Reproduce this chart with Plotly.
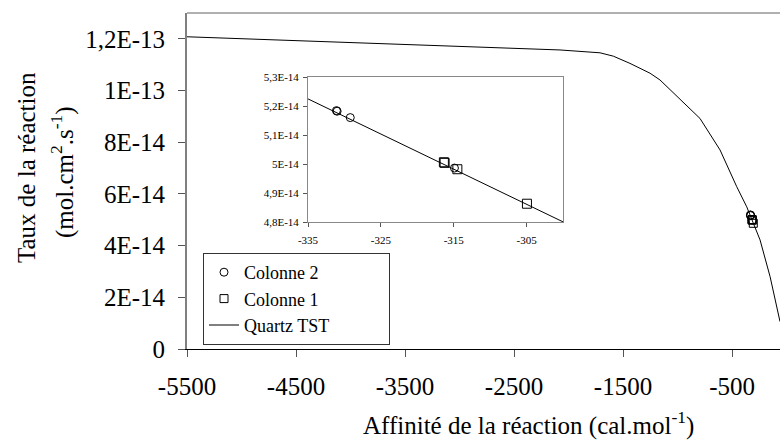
import plotly.graph_objects as go

# Main curve: Quartz TST
quartz_x = [-5500, -4500, -3500, -2500, -2078, -1711, -1589, -1436, -1252, -1161,
            -977, -794, -610, -457, -365, -320, -243, -151, -60]
quartz_y = [1.208e-13, 1.193e-13, 1.178e-13, 1.163e-13, 1.157e-13, 1.146e-13, 1.133e-13,
            1.105e-13, 1.067e-13, 1.041e-13, 0.968e-13, 0.892e-13, 0.770e-13, 0.628e-13,
            0.550e-13, 0.504e-13, 0.422e-13, 0.280e-13, 0.106e-13]

# Measurements
col2_x = [-331.1, -331.0, -329.2, -314.9]
col2_y = [5.184e-14, 5.182e-14, 5.160e-14, 4.986e-14]
col1_x = [-316.35, -316.25, -314.5, -304.95]
col1_y = [5.006e-14, 5.004e-14, 4.982e-14, 4.863e-14]

# Inset line (Quartz TST zoomed)
inset_line_x = [-335.7, -299.3]
inset_line_y = [5.233e-14, 4.792e-14]

# Tick labels
main_yticks = [0, 2e-14, 4e-14, 6e-14, 8e-14, 1e-13, 1.2e-13]
main_yticktext = ["0", "2E-14", "4E-14", "6E-14", "8E-14", "1E-13", "1,2E-13"]
main_xticks = [-5500, -4500, -3500, -2500, -1500, -500]
main_xticktext = ["-5500", "-4500", "-3500", "-2500", "-1500", "-500"]
inset_yticks = [4.8e-14, 4.9e-14, 5.0e-14, 5.1e-14, 5.2e-14, 5.3e-14]
inset_yticktext = ["4,8E-14", "4,9E-14", "5E-14", "5,1E-14", "5,2E-14", "5,3E-14"]
inset_xticks = [-335, -325, -315, -305]
inset_xticktext = ["-335", "-325", "-315", "-305"]

FONT = "Liberation Serif"
W, H = 780, 446
L, R, T, B = 187, 0, 13, 97
PW, PH = W - L - R, H - T - B
PAD = "\u00a0" * 12  # extra room on the right of the legend entries


def px_x(x):
    return (x - L) / PW


def px_y(y):
    return (H - B - y) / PH


fig = go.Figure()

fig.add_trace(go.Scatter(x=quartz_x, y=quartz_y, mode="lines", name="Quartz TST" + PAD,
                         line=dict(color="black", width=1), legendrank=3))
fig.add_trace(go.Scatter(x=col2_x, y=col2_y, mode="markers", name="Colonne 2",
                         marker=dict(symbol="circle-open", size=8, color="black",
                                     line=dict(width=1, color="black")), legendrank=1))
fig.add_trace(go.Scatter(x=col1_x, y=col1_y, mode="markers", name="Colonne 1",
                         marker=dict(symbol="square-open", size=8, color="black",
                                     line=dict(width=1, color="black")), legendrank=2))

# Inset traces
fig.add_trace(go.Scatter(x=inset_line_x, y=inset_line_y, mode="lines", showlegend=False,
                         line=dict(color="black", width=1), xaxis="x2", yaxis="y2"))
fig.add_trace(go.Scatter(x=col2_x, y=col2_y, mode="markers", showlegend=False,
                         marker=dict(symbol="circle-open", size=8, color="black",
                                     line=dict(width=1, color="black")),
                         xaxis="x2", yaxis="y2", cliponaxis=False))
fig.add_trace(go.Scatter(x=col1_x, y=col1_y, mode="markers", showlegend=False,
                         marker=dict(symbol="square-open", size=9, color="black",
                                     line=dict(width=1, color="black")),
                         xaxis="x2", yaxis="y2", cliponaxis=False))

fig.update_layout(
    width=W, height=H,
    margin=dict(l=L, r=R, t=T, b=B, autoexpand=False),
    paper_bgcolor="white", plot_bgcolor="white",
    font=dict(family=FONT, color="black", size=25),
    xaxis=dict(range=[-5500, -60], tickvals=main_xticks, ticktext=main_xticktext,
               ticks="outside", ticklen=7, tickcolor="#555", showline=True,
               linecolor="black", linewidth=1, showgrid=False, zeroline=False,
               ticklabelstandoff=8, automargin=False,
               tickfont=dict(size=25, family=FONT)),
    yaxis=dict(range=[0, 1.3e-13], tickvals=main_yticks, ticktext=main_yticktext,
               ticks="outside", ticklen=7, tickcolor="#555", showline=True,
               linecolor="#808080", linewidth=2, showgrid=False, zeroline=False,
               ticklabelstandoff=8, automargin=False,
               tickfont=dict(size=25, family=FONT)),
    xaxis2=dict(domain=[px_x(308), px_x(563)], anchor="y2", range=[-335, -300],
                tickvals=inset_xticks, ticktext=inset_xticktext, ticks="outside",
                ticklen=4, tickcolor="#555", showline=True, linecolor="#888",
                mirror=True, showgrid=False, zeroline=False, automargin=False,
                tickfont=dict(size=11, family=FONT), ticklabelstandoff=4),
    yaxis2=dict(domain=[px_y(222), px_y(77)], anchor="x2", range=[4.8e-14, 5.3e-14],
                tickvals=inset_yticks, ticktext=inset_yticktext, ticks="outside",
                ticklen=4, tickcolor="#555", showline=True, linecolor="#888",
                mirror=True, showgrid=False, zeroline=False, automargin=False,
                tickfont=dict(size=11, family=FONT), ticklabelstandoff=2),
    legend=dict(x=px_x(203), y=px_y(345), xanchor="left", yanchor="bottom",
                bgcolor="white", bordercolor="#333", borderwidth=1,
                font=dict(size=18, family=FONT), tracegroupgap=0,
                itemwidth=30),
    showlegend=True,
    shapes=[dict(type="line", xref="paper", yref="paper", x0=0, x1=1, y0=1, y1=1,
                 line=dict(color="#b0b0b0", width=2))],
    annotations=[
        dict(text="Taux de la réaction",
             xref="paper", yref="paper", x=px_x(26), y=px_y(168),
             xanchor="center", yanchor="middle", textangle=-90, showarrow=False,
             font=dict(size=25, family=FONT)),
        dict(text="(mol.cm<sup>2</sup>.s<sup>-1</sup>)",
             xref="paper", yref="paper", x=px_x(62), y=px_y(172),
             xanchor="center", yanchor="middle", textangle=-90, showarrow=False,
             font=dict(size=25, family=FONT)),
        dict(text="Affinité de la réaction (cal.mol<sup>-1</sup>)",
             xref="paper", yref="paper", x=px_x(528), y=px_y(423),
             xanchor="center", yanchor="middle", showarrow=False,
             font=dict(size=25, family=FONT)),
    ],
)

fig.write_html("out.html", config={"displayModeBar": False},
               post_script="document.body.style.margin='0';document.body.style.padding='0';")
